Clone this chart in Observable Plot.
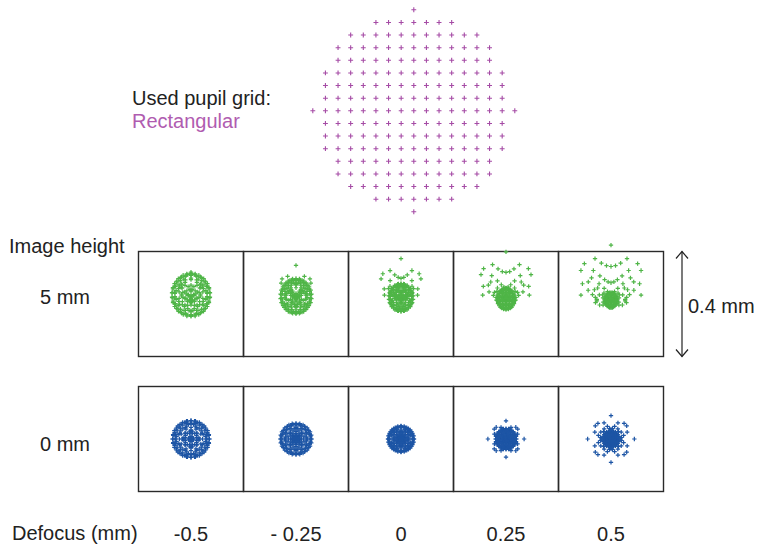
<!DOCTYPE html>
<html>
<head>
<meta charset="utf-8">
<script src="https://cdn.jsdelivr.net/npm/d3@7"></script>
<script src="https://cdn.jsdelivr.net/npm/@observablehq/plot@0.6"></script>
<style>
  html, body { margin: 0; padding: 0; background: #fff; }
  #wrap { position: relative; width: 757px; height: 545px; overflow: hidden; font-family: "Liberation Sans", Arial, sans-serif; }
  #wrap > * { position: absolute; }
</style>
</head>
<body>
<div id="wrap"></div>
<script>
// ---------- data ----------
// number of sample points in each row of the rectangular pupil grid (top to bottom)
const pupilRowCounts = [1, 7, 11, 13, 13, 15, 15, 15, 17, 15, 15, 15, 13, 13, 11, 7, 1];
const pupilHalfRows = 8;

const defocusValues = [-0.5, -0.25, 0, 0.25, 0.5];          // mm
const defocusLabels = ["-0.5", "- 0.25", "0", "0.25", "0.5"];
const fieldLabels = ["5 mm", "0 mm"];                       // image height
const fieldColors = ["#4fb547", "#1d55a5"];

// transverse ray aberration coefficients (mm in the image plane), estimated from the spot sizes
const defocusBase   = [-0.135, -0.149];   // defocus term at 0 mm defocus
const defocusRate   = [0.103, 0.080];     // change of defocus term per mm of defocus
const sphericalCoef = [0.198, 0.198];     // third-order spherical term
const comaCoef      = [0.038, 0.0];       // coma term
const chiefOffset   = [-0.004, 0.0];      // vertical offset of the chief ray

const boxSize = 0.4; // mm, scale bar

// ---------- tables built from the arrays ----------
const pupil = [];
pupilRowCounts.forEach((n, k) => {
  const j = pupilHalfRows - k;
  for (let t = 0; t < n; t++) {
    const i = t - (n - 1) / 2;
    pupil.push({px: i / pupilHalfRows, py: j / pupilHalfRows});
  }
});

const spots = [];
fieldLabels.forEach((field, f) => {
  defocusValues.forEach(d => {
    const A = defocusBase[f] + defocusRate[f] * d;
    const B = sphericalCoef[f], C = comaCoef[f];
    for (const {px, py} of pupil) {
      const r2 = px * px + py * py;
      const k = A + B * r2;
      spots.push({
        field, defocus: d, color: fieldColors[f],
        u: k * px + 2 * C * px * py,
        v: k * py + C * (px * px + 3 * py * py) + chiefOffset[f]
      });
    }
  });
});

const tickRows = defocusValues.map((d, i) => ({defocus: d, field: fieldLabels[fieldLabels.length - 1], label: defocusLabels[i]}));

// ---------- layout ----------
const W = 757, H = 545;
const mL = 138, mR = 94, mT = 251, mB = 54;
const font = "Liberation Sans, Arial, sans-serif";
const wrap = document.getElementById("wrap");

const chart = Plot.plot({
  width: W, height: H,
  marginLeft: mL, marginRight: mR, marginTop: mT, marginBottom: mB,
  x: {domain: [-boxSize / 2, boxSize / 2], axis: null},
  y: {domain: [-boxSize / 2, boxSize / 2], axis: null},
  fx: {domain: defocusValues, padding: 0, axis: null, round: false},
  fy: {domain: fieldLabels, paddingInner: 30 / 135, paddingOuter: 0, axis: null, round: false},
  style: {background: "transparent", overflow: "visible", fontFamily: font},
  marks: [
    Plot.frame({stroke: "#2a2a2a", strokeWidth: 1.4}),
    ...fieldLabels.map((field, f) =>
      Plot.dot(spots.filter(s => s.field === field), {
        x: "u", y: "v", fx: "defocus", fy: "field",
        symbol: "plus", r: 1.5, stroke: fieldColors[f], strokeWidth: 1.2, fill: "none"
      })),
    Plot.text(tickRows, {
      fx: "defocus", fy: "field", text: "label",
      frameAnchor: "bottom", lineAnchor: "bottom", dy: 49,
      fontSize: 20, fill: "#222"
    })
  ]
});
chart.style.left = "0px"; chart.style.top = "0px";
wrap.appendChild(chart);

// pupil grid plot
const unit = 101;               // pixels per normalised pupil radius
const pW = 230, pH = 222, pLeft = 298;
const cx = 413.3 - pLeft, cy = 110.3;
const pupilPlot = Plot.plot({
  width: pW, height: pH, margin: 0,
  x: {domain: [-cx / unit, (pW - cx) / unit], axis: null},
  y: {domain: [-(pH - cy) / unit, cy / unit], axis: null},
  style: {background: "transparent", overflow: "visible"},
  marks: [
    Plot.dot(pupil, {x: "px", y: "py", symbol: "plus", r: 1.7, stroke: "#a54ba5", strokeWidth: 1.1, fill: "none"})
  ]
});
pupilPlot.style.left = pLeft + "px"; pupilPlot.style.top = "0px";
wrap.appendChild(pupilPlot);

// annotation overlay
const svg = d3.create("svg").attr("width", W).attr("height", H)
  .style("left", "0px").style("top", "0px")
  .attr("font-family", font).attr("font-size", 20);
const labels = [
  {t: "Used pupil grid:", x: 132, y: 105, c: "#222"},
  {t: "Rectangular", x: 132, y: 128, c: "#b05cb0"},
  {t: "Image height", x: 9, y: 253, c: "#222"},
  {t: fieldLabels[0], x: 40, y: 304, c: "#222"},
  {t: fieldLabels[1], x: 40, y: 451, c: "#222"},
  {t: "Defocus (mm)", x: 12, y: 540, c: "#222"},
  {t: boxSize + " mm", x: 688, y: 313, c: "#222"}
];
svg.selectAll("text").data(labels).join("text")
  .attr("x", d => d.x).attr("y", d => d.y).attr("fill", d => d.c).text(d => d.t);

// scale bar arrow spanning the box height
const bandH = 105;
const ax = W - mR + 19, ay1 = mT + 0.5, ay2 = mT + bandH + 0.5;
const g = svg.append("g").attr("stroke", "#222").attr("stroke-width", 1.2).attr("fill", "none");
g.append("line").attr("x1", ax).attr("x2", ax).attr("y1", ay1).attr("y2", ay2);
g.append("path").attr("d", `M${ax - 6},${ay1 + 7}L${ax},${ay1}L${ax + 6},${ay1 + 7}`);
g.append("path").attr("d", `M${ax - 6},${ay2 - 7}L${ax},${ay2}L${ax + 6},${ay2 - 7}`);
wrap.appendChild(svg.node());
</script>
</body>
</html>
